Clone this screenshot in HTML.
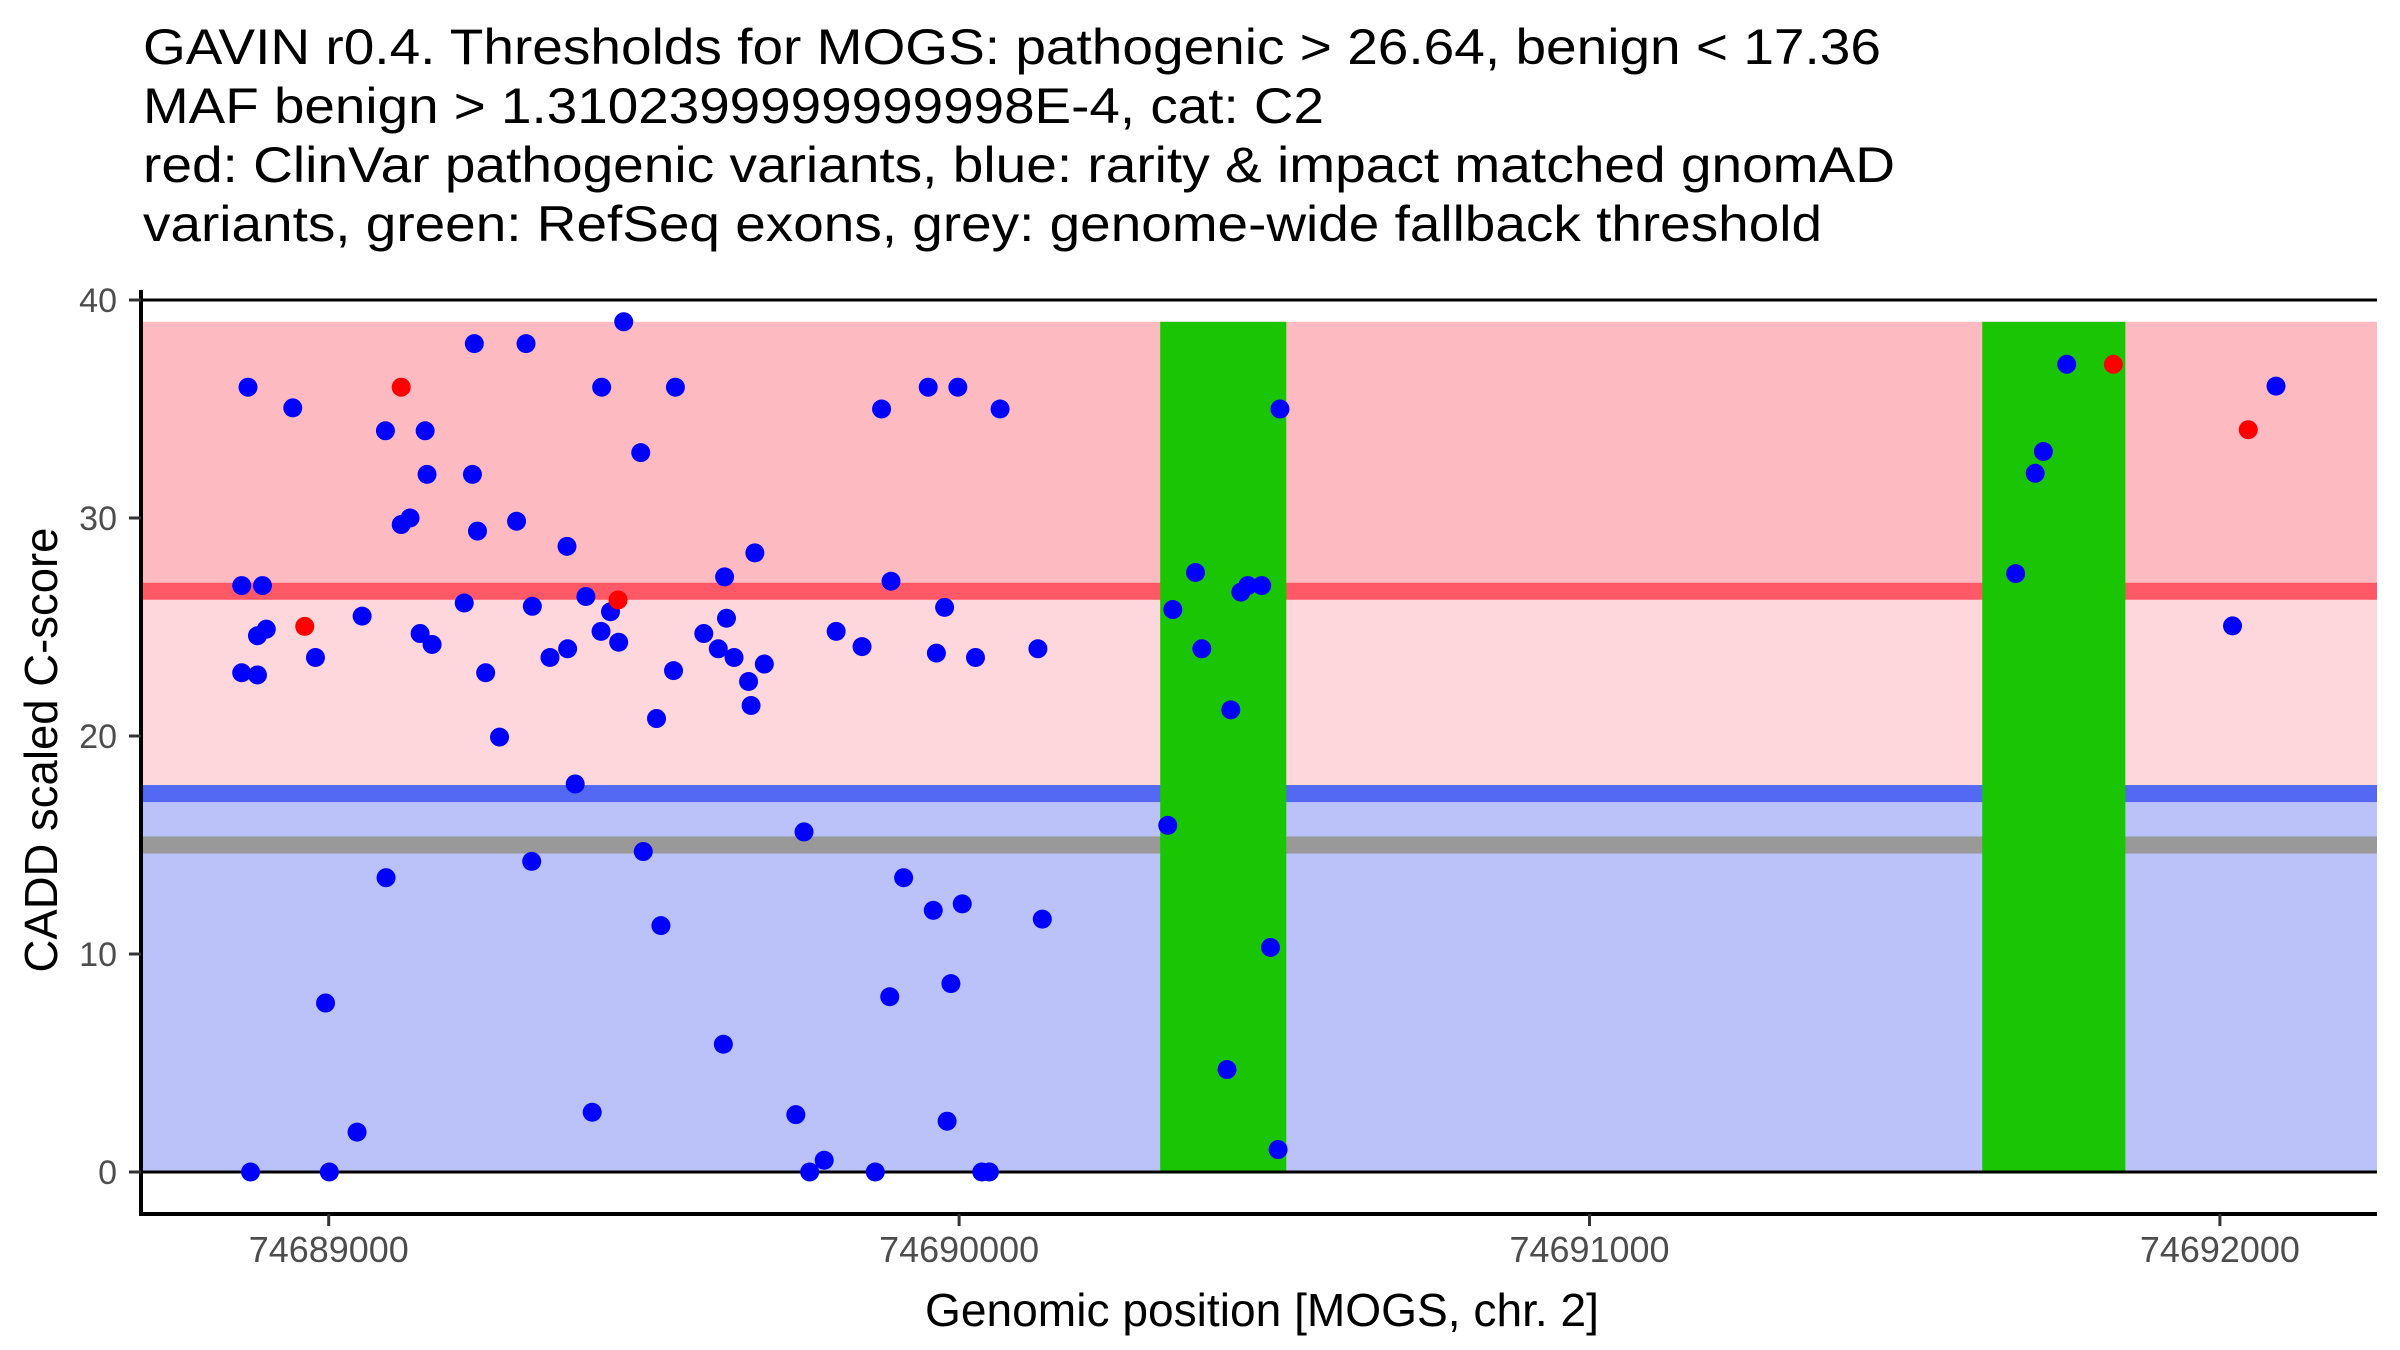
<!DOCTYPE html>
<html><head><meta charset="utf-8">
<style>
html,body{margin:0;padding:0;background:#fff;}
svg{display:block;font-family:"Liberation Sans",Arial,sans-serif;}
</style></head>
<body>
<svg id="chart" width="2400" height="1350" viewBox="0 0 2400 1350" xmlns="http://www.w3.org/2000/svg">
<g font-size="50" fill="#000">
<text x="143" y="64" textLength="1738" lengthAdjust="spacingAndGlyphs">GAVIN r0.4. Thresholds for MOGS: pathogenic &gt; 26.64, benign &lt; 17.36</text>
<text x="143" y="123" textLength="1181" lengthAdjust="spacingAndGlyphs">MAF benign &gt; 1.3102399999999998E-4, cat: C2</text>
<text x="143" y="182" textLength="1752" lengthAdjust="spacingAndGlyphs">red: ClinVar pathogenic variants, blue: rarity &amp; impact matched gnomAD</text>
<text x="143" y="241" textLength="1679" lengthAdjust="spacingAndGlyphs">variants, green: RefSeq exons, grey: genome-wide fallback threshold</text>
</g>
<g id="bands"></g>
<g id="marks"></g>
<g id="axes"></g>
<text x="1262" y="1326" font-size="46" text-anchor="middle" fill="#000" textLength="674" lengthAdjust="spacingAndGlyphs">Genomic position [MOGS, chr. 2]</text>
<text x="0" y="0" font-size="46" text-anchor="middle" fill="#000" textLength="445" lengthAdjust="spacingAndGlyphs" transform="translate(57,750) rotate(-90)">CADD scaled C-score</text>
</svg>
<script>
const xTicks = [74689000, 74690000, 74691000, 74692000];
const yTicks = [0, 10, 20, 30, 40];
const pathogenicThreshold = 26.64;
const benignThreshold = 17.36;
const fallbackThreshold = 15;
const bandTop = 39;
const exonStarts = [74690319, 74691623];
const exonEnds = [74690519, 74691850];
const gnomadPos = [74688872,74688943,74689090,74689153,74689231,74689313,74689468,74689433,74689550,74689495,
74689156,74689228,74689129,74689115,74689236,74689298,74689378,74688862,74688895,74689215,
74689408,74689447,74689323,74689053,74688901,74688887,74689145,74689164,74688979,74688862,
74688887,74689249,74689432,74689460,74689379,74689351,74689547,74689595,74689618,74689520,
74689271,74689391,74689628,74689631,74689676,74689643,74689691,74689666,74689670,74689805,
74689846,74689877,74689951,74689998,74690065,74689892,74689977,74689964,74690026,74690125,
74689091,74689322,74689499,74689527,74688995,74689626,74689418,74689045,74688876,74689001,
74689754,74689912,74689959,74690005,74690132,74689890,74689987,74689741,74689981,74689786,
74689763,74689867,74690036,74690048,
74690331,74690339,74690375,74690385,74690431,74690447,74690458,74690480,74690509,74690494,74690425,74690506,
74691757,74691720,74691707,74691676,74692089,74692020];
const gnomadScore = [36,35.05,34,34,38,38,39,36,36,33,
32,32,30,29.7,29.4,29.85,28.7,26.9,26.9,26.1,
26.4,25.7,25.95,25.5,24.9,24.6,24.7,24.2,23.6,22.9,
22.8,22.9,24.8,24.3,24,23.6,23,24.7,24,20.8,
19.95,17.8,27.3,25.4,28.4,23.6,23.3,22.5,21.4,24.8,
24.1,35,36,36,35,27.1,25.9,23.8,23.6,24,
13.5,14.25,14.7,11.3,7.75,5.86,2.74,1.83,0,0,
15.6,13.5,12,12.3,11.6,8.04,8.64,2.63,2.33,0.54,
0,0,0,0,
15.9,25.8,27.5,24,21.2,26.6,26.9,26.9,35,10.3,4.7,1.03,
37.05,33.05,32.05,27.45,36.05,25.05];
const clinvarPos = [74689115, 74689459, 74688962, 74691831, 74692045];
const clinvarScore = [36, 26.24, 25.03, 37.05, 34.05];

const NS = 'http://www.w3.org/2000/svg';
const X0 = 141, X1 = 2377, YB = 1214;
function px(bp){ return 328.7 + (bp - 74689000) * 0.6304; }
function py(v){ return 1172 - v * 21.8; }
function mk(tag, attrs, parent){ const e = document.createElementNS(NS, tag); for (const k in attrs) e.setAttribute(k, attrs[k]); parent.appendChild(e); return e; }
const bands = document.getElementById('bands');
const marks = document.getElementById('marks');
const axes = document.getElementById('axes');

let r;
r = mk('rect', {x:X0, y:py(bandTop), width:X1-X0, height:py(pathogenicThreshold)-py(bandTop), fill:'#fdbbc1'}, bands);


r = mk('rect', {x:X0, y:py(pathogenicThreshold), width:X1-X0, height:py(benignThreshold)-py(pathogenicThreshold), fill:'#fdd7dc'}, bands);


r = mk('rect', {x:X0, y:py(benignThreshold), width:X1-X0, height:py(0)-py(benignThreshold), fill:'#bbc1f9'}, bands);


r = mk('rect', {x:X0, y:py(pathogenicThreshold)-8.5, width:X1-X0, height:17, fill:'#ff5967'}, bands);


r = mk('rect', {x:X0, y:py(benignThreshold)-8.5, width:X1-X0, height:17, fill:'#5469f3'}, bands);


r = mk('rect', {x:X0, y:py(fallbackThreshold)-8.5, width:X1-X0, height:17, fill:'#999999'}, bands);


for (let i = 0; i < exonStarts.length; i++) {
  const e = mk('rect', {x:px(exonStarts[i]), y:py(bandTop), width:px(exonEnds[i])-px(exonStarts[i]), height:py(0)-py(bandTop), fill:'#1ac603'}, bands);
  
  
}
let l;
l = mk('line', {x1:X0, x2:X1, y1:py(40), y2:py(40), stroke:'#000', 'stroke-width':3}, bands);


l = mk('line', {x1:X0, x2:X1, y1:py(0), y2:py(0), stroke:'#000', 'stroke-width':3}, bands);



for (let i = 0; i < gnomadPos.length; i++) {
  const c = mk('circle', {cx:px(gnomadPos[i]), cy:py(gnomadScore[i]), r:9.5, fill:'#0000ff'}, marks);
  
  
}
for (let i = 0; i < clinvarPos.length; i++) {
  const c = mk('circle', {cx:px(clinvarPos[i]), cy:py(clinvarScore[i]), r:9.5, fill:'#ff0000'}, marks);
  
  
}

l = mk('line', {x1:X0, x2:X0, y1:290, y2:YB+2, stroke:'#000', 'stroke-width':4}, axes);


l = mk('line', {x1:X0-2, x2:X1, y1:YB, y2:YB, stroke:'#000', 'stroke-width':4}, axes);


for (const t of yTicks) {
  const tk = mk('line', {x1:X0-12, x2:X0, y1:py(t), y2:py(t), stroke:'#333', 'stroke-width':3}, axes);
  
  
  const tx = mk('text', {x:117, y:py(t)+12, 'font-size':34, 'text-anchor':'end', fill:'#4d4d4d'}, axes);
  tx.textContent = String(t);
  
  
}
for (const t of xTicks) {
  const tk = mk('line', {x1:px(t), x2:px(t), y1:YB, y2:YB+12, stroke:'#333', 'stroke-width':3}, axes);
  
  
  const tx = mk('text', {x:px(t), y:1262, 'font-size':36, 'text-anchor':'middle', fill:'#4d4d4d', textLength:160, lengthAdjust:'spacingAndGlyphs'}, axes);
  tx.textContent = String(t);
  
  
}
</script>
</body></html>
